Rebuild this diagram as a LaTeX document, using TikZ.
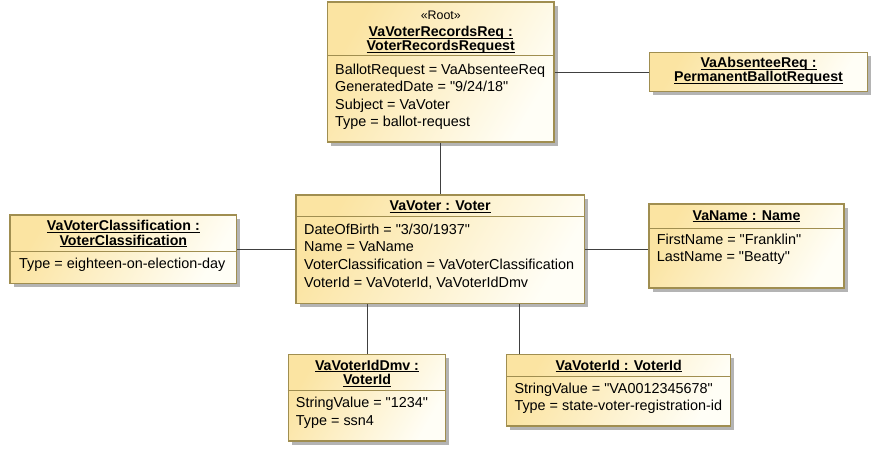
\documentclass[tikz,border=0pt]{standalone}
\usepackage{fontspec}
\setmainfont{Liberation Sans}[Ligatures=TeXOff]
\usetikzlibrary{shadows}
\definecolor{bx}{RGB}{160,142,80}
\definecolor{ylw}{RGB}{251,228,162}
\definecolor{wht}{RGB}{255,254,246}
\definecolor{shd}{RGB}{180,180,180}
\definecolor{ln}{RGB}{64,64,64}
\newcommand\ttl[1]{\underline{\smash{\textbf{#1}}}}
\begin{document}
\begin{tikzpicture}[x=1pt,y=-1pt,
 objbox/.style={rectangle, draw=bx, line width=1.2pt, top color=ylw, bottom color=wht, shading angle=60,
   drop shadow={shadow xshift=3.5pt, shadow yshift=-3.5pt, fill=shd, opacity=1}, inner sep=0pt},
 sep/.style={draw=bx, line width=0.9pt},
 conn/.style={draw=ln, line width=1pt},
 body/.style={anchor=base west, inner sep=0pt, font=\fontsize{14.4}{17}\selectfont},
 head/.style={anchor=base, inner sep=0pt, font=\fontsize{14.2}{16}\selectfont},
 stereo/.style={anchor=base, inner sep=0pt, font=\fontsize{12.4}{14}\selectfont}]
\useasboundingbox (0,0) rectangle (886,459);

% ---- root
\node[objbox, minimum width=226.5pt, minimum height=140pt] (root) at (440.75,72) {};
\node[stereo] (rootst) at (440.75,19) {«Root»};
\node[head] (roott1) at (440.75,36.5) {\ttl{VaVoterRecordsReq :}};
\node[head] (roott2) at (440.75,50.5) {\ttl{VoterRecordsRequest}};
\draw[sep] (root.west |- 0,55) -- (root.east |- 0,55);
\node[body] (rootb1) at (335,74) {BallotRequest = VaAbsenteeReq};
\node[body] (rootb2) at (335,91.6) {GeneratedDate = "9/24/18"};
\node[body] (rootb3) at (335,109.2) {Subject = VaVoter};
\node[body] (rootb4) at (335,126.8) {Type = ballot-request};

% ---- absentee
\node[objbox, minimum width=218.4pt, minimum height=39.4pt] (abs) at (758.5,72) {};
\node[head] (abst1) at (758.5,67.3) {\ttl{VaAbsenteeReq :}};
\node[head] (abst2) at (758.5,81.7) {\ttl{PermanentBallotRequest}};

% ---- name
\node[objbox, minimum width=195pt, minimum height=84pt] (name) at (746.5,246) {};
\node[head] (namet) at (746.5,220) {\ttl{VaName : Name}};
\draw[sep] (name.west |- 0,228) -- (name.east |- 0,228);
\node[body] (nameb1) at (656.7,244) {FirstName = "Franklin"};
\node[body] (nameb2) at (656.7,261.6) {LastName = "Beatty"};

% ---- voter
\node[objbox, minimum width=288.3pt, minimum height=108.3pt] (voter) at (440.15,249.15) {};
\node[head] (votert) at (440.15,210.7) {\ttl{VaVoter : Voter}};
\draw[sep] (voter.west |- 0,216) -- (voter.east |- 0,216);
\node[body] (voterb1) at (304,234.3) {DateOfBirth = "3/30/1937"};
\node[body] (voterb2) at (304,251.9) {Name = VaName};
\node[body] (voterb3) at (304,269.5) {VoterClassification = VaVoterClassification};
\node[body] (voterb4) at (304,287.1) {VoterId = VaVoterId, VaVoterIdDmv};

% ---- classification
\node[objbox, minimum width=226.7pt, minimum height=68.3pt] (cls) at (123.35,249.15) {};
\node[head] (clst1) at (123.35,230.7) {\ttl{VaVoterClassification :}};
\node[head] (clst2) at (123.35,245) {\ttl{VoterClassification}};
\draw[sep] (cls.west |- 0,251.7) -- (cls.east |- 0,251.7);
\node[body] (clsb1) at (19,268.3) {Type = eighteen-on-election-day};

% ---- dmv
\node[objbox, minimum width=157.4pt, minimum height=86.7pt] (dmv) at (367,397.65) {};
\node[head] (dmvt1) at (367,370) {\ttl{VaVoterIdDmv :}};
\node[head] (dmvt2) at (367,384.3) {\ttl{VoterId}};
\draw[sep] (dmv.west |- 0,390.7) -- (dmv.east |- 0,390.7);
\node[body] (dmvb1) at (295.7,407.7) {StringValue = "1234"};
\node[body] (dmvb2) at (295.7,425.3) {Type = ssn4};

% ---- voter id
\node[objbox, minimum width=224pt, minimum height=71.7pt] (vid) at (618.7,390.15) {};
\node[head] (vidt) at (618.7,370) {\ttl{VaVoterId : VoterId}};
\draw[sep] (vid.west |- 0,376) -- (vid.east |- 0,376);
\node[body] (vidb1) at (514.3,393.3) {StringValue = "VA0012345678"};
\node[body] (vidb2) at (514.3,410.9) {Type = state-voter-registration-id};

% ---- connectors
\draw[conn] (root.south) -- (root.south |- voter.north);
\draw[conn] (root.east) -- (abs.west);
\draw[conn] (cls.east) -- (voter.west);
\draw[conn] (voter.east) -- (voter.east -| name.west);
\draw[conn] (dmv.north) -- (dmv.north |- voter.south);
\coordinate (vb) at ([xshift=79pt]voter.south);
\draw[conn] (vb) -- (vb |- vid.north);
\end{tikzpicture}
\end{document}
